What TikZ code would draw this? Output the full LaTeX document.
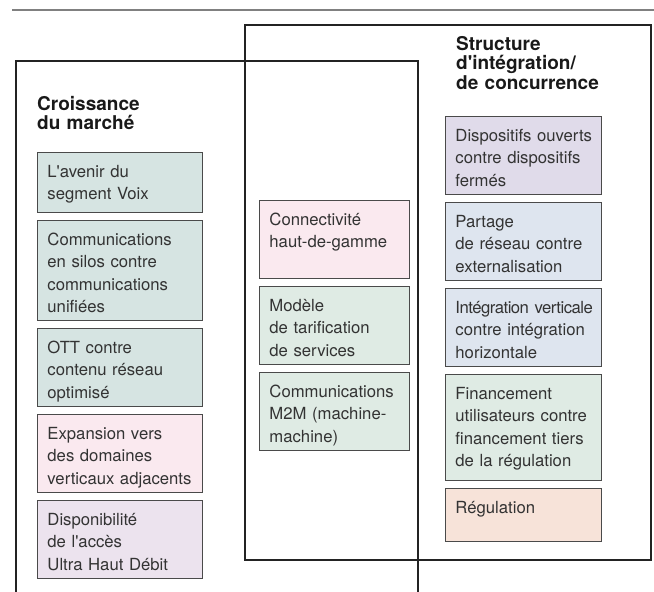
\documentclass[tikz,border=0pt]{standalone}
\usepackage{fontspec}
\setmainfont{TeX Gyre Heros}[Ligatures=TeXOff]
\usepackage{xcolor}
\usepackage{tikz}
\usetikzlibrary{positioning}

\definecolor{rulegray}{HTML}{808080}
\definecolor{framegray}{HTML}{232323}
\definecolor{boxline}{HTML}{4A4A4A}
\definecolor{boxtext}{HTML}{333333}
\definecolor{fillteal}{HTML}{D6E4E2}
\definecolor{fillpink}{HTML}{FAE9EF}
\definecolor{filllilac}{HTML}{ECE3EE}
\definecolor{fillgreen}{HTML}{DFEBE4}
\definecolor{fillviolet}{HTML}{E0DBEA}
\definecolor{fillblue}{HTML}{DEE5EF}
\definecolor{fillpeach}{HTML}{F7E3D9}

\newcommand{\entryfont}{\fontsize{16.7}{22.5}\selectfont}
\newcommand{\headfont}{\fontsize{19}{19.5}\selectfont\bfseries}
\newcommand{\tightline}[1]{\mbox{\addfontfeature{LetterSpace=-3}#1}}

\tikzset{
    entrynode/.style = {draw=boxline, rectangle, line width=0.9pt, inner xsep=10pt, inner ysep=0pt,
      text height=25pt, align=left, text=boxtext, font=\entryfont},
    leftnode/.style  = {entrynode, text width=145pt},
    midnode/.style   = {entrynode, text width=130pt},
    rightnode/.style = {entrynode, text width=136pt},
    headnode/.style  = {draw=none, fill=none, rectangle, inner sep=0em, anchor=base west,
      text width=180pt, align=left, font=\headfont, text=black!90},
    bigframe/.style  = {framegray, line width=2.5pt},
    topline/.style   = {rulegray, line width=1.5pt}
}

\begin{document}
\begin{tikzpicture}[x=1pt, y=-1pt, node distance=7pt]
    \useasboundingbox (0,0) rectangle (654,592);

    \draw [topline] (12,10) -- (654,10);
    \draw [bigframe] (245,25) rectangle (651,560);
    \draw [bigframe] (16,600) -- (16,61) -- (418,61) -- (418,600);

    \node [name=growth, headnode] at (37,110) {Croissance\\du marché};
    \node [name=structure, headnode] at (456,50) {Structure\\d'intégration/\\de concurrence};

    % market growth column
    \node [name=voice, leftnode, fill=fillteal, text depth=35pt, anchor=north west] at (37,152)
        {L'avenir du\\segment Voix};
    \node [name=silos, leftnode, fill=fillteal, text depth=75pt, below=of voice]
        {Communications\\en silos contre\\communications\\unifiées};
    \node [name=ott, leftnode, fill=fillteal, text depth=53pt, below=of silos]
        {OTT contre\\contenu réseau\\optimisé};
    \node [name=expansion, leftnode, fill=fillpink, text depth=53pt, below=of ott]
        {Expansion vers\\des domaines\\verticaux adjacents};
    \node [name=ultra, leftnode, fill=filllilac, text depth=53pt, below=of expansion]
        {Disponibilité\\de l'accès\\Ultra Haut Débit};

    % shared column
    \node [name=premium, midnode, fill=fillpink, text depth=53pt, anchor=north west] at (259,200)
        {Connectivité\\haut-de-gamme};
    \node [name=pricing, midnode, fill=fillgreen, text depth=53pt, below=of premium]
        {Modèle\\de tarification\\de services};
    \node [name=mtom, midnode, fill=fillgreen, text depth=53pt, below=of pricing]
        {Communications\\M2M (machine-\\machine)};

    % integration / competition column
    \node [name=devices, rightnode, fill=fillviolet, text depth=53pt, anchor=north west] at (445,116)
        {\mbox{Dispositifs ouverts}\\contre dispositifs\\fermés};
    \node [name=sharing, rightnode, fill=fillblue, text depth=53pt, below=of devices]
        {Partage\\de réseau contre\\externalisation};
    \node [name=vertical, rightnode, fill=fillblue, text depth=53pt, below=of sharing]
        {\tightline{Intégration verticale}\\contre intégration\\horizontale};
    \node [name=funding, rightnode, fill=fillgreen, text depth=81pt, below=of vertical]
        {Financement\\utilisateurs contre\\financement tiers\\de la régulation};
    \node [name=regulation, rightnode, fill=fillpeach, text depth=28pt, below=of funding]
        {Régulation};
\end{tikzpicture}
\end{document}
